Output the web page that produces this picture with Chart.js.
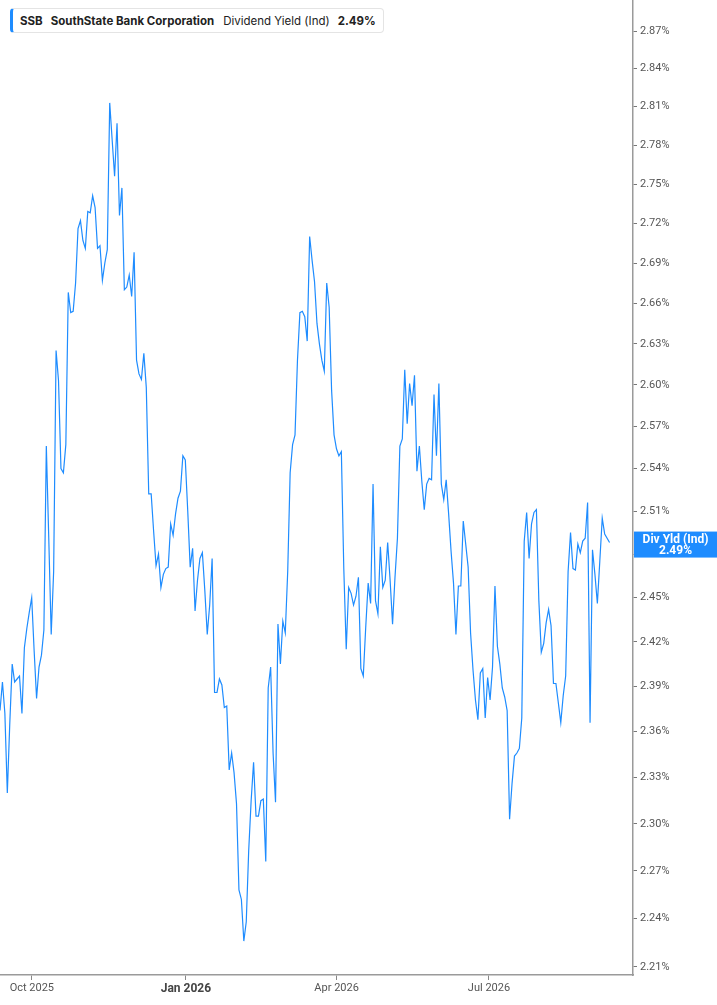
<!DOCTYPE html>
<html>
<head>
<meta charset="utf-8">
<script src="https://cdn.jsdelivr.net/npm/chart.js@4.4.1/dist/chart.umd.min.js"></script>
<style>
  body { margin: 0; background: #fff; }
  #wrap { position: relative; width: 717px; height: 1005px; }
  #legend {
    position: absolute; left: 10px; top: 8px; height: 25px; box-sizing: border-box;
    padding: 0 7px 0 7px; display: flex; align-items: center;
    border: 1px solid #e4e4e4; border-left: 3px solid #1e8cff; border-radius: 4px;
    background: #fff; font: 11.5px Inter, "Noto Sans", sans-serif; color: #222; white-space: nowrap;
  }
  #legend b { font-weight: 700; }
</style>
</head>
<body>
<div id="wrap">
  <canvas id="chart"></canvas>
  <div id="legend"></div>
</div>
<script>
// SSB dividend yield (indicated), one value per trading day
var ticker = 'SSB';
var company = 'SouthState Bank Corporation';
var metric = 'Dividend Yield (Ind)';
var shortMetric = 'Div Yld (Ind)';
var firstDate = '2025-09-12';
var lastDate = '2026-09-11';
var axisStart = '2025-09-12';
var axisEnd = '2026-09-25';
var monthTicks = ['2025-10-01', '2026-01-01', '2026-04-01', '2026-07-01'];
var monthLabels = ['Oct 2025', 'Jan 2026', 'Apr 2026', 'Jul 2026'];
var yTicks = [2.21, 2.24, 2.27, 2.30, 2.33, 2.36, 2.39, 2.42, 2.45, 2.48, 2.51, 2.54,
              2.57, 2.60, 2.63, 2.66, 2.69, 2.72, 2.75, 2.78, 2.81, 2.84, 2.87];

var yields = [
  2.374, 2.393, 2.372, 2.320, 2.365, 2.405, 2.393, 2.395, 2.397, 2.372,
  2.416, 2.429, 2.440, 2.450, 2.414, 2.382, 2.403, 2.411, 2.428, 2.556,
  2.491, 2.425, 2.468, 2.625, 2.603, 2.540, 2.537, 2.557, 2.668, 2.653,
  2.654, 2.675, 2.716, 2.722, 2.707, 2.701, 2.729, 2.728, 2.741, 2.732,
  2.701, 2.703, 2.677, 2.690, 2.700, 2.813, 2.784, 2.756, 2.797, 2.726,
  2.747, 2.670, 2.672, 2.681, 2.665, 2.698, 2.618, 2.608, 2.604, 2.623,
  2.598, 2.522, 2.522, 2.496, 2.472, 2.480, 2.457, 2.466, 2.470, 2.471,
  2.501, 2.493, 2.508, 2.519, 2.524, 2.549, 2.546, 2.510, 2.471, 2.484,
  2.441, 2.462, 2.477, 2.481, 2.455, 2.425, 2.445, 2.477, 2.386, 2.386,
  2.395, 2.391, 2.376, 2.377, 2.335, 2.346, 2.333, 2.313, 2.258, 2.252,
  2.226, 2.238, 2.283, 2.315, 2.340, 2.305, 2.305, 2.315, 2.316, 2.276,
  2.389, 2.403, 2.346, 2.314, 2.432, 2.405, 2.434, 2.426, 2.468, 2.537,
  2.557, 2.564, 2.618, 2.653, 2.654, 2.650, 2.632, 2.710, 2.692, 2.676,
  2.645, 2.630, 2.618, 2.610, 2.675, 2.657, 2.596, 2.564, 2.554, 2.549,
  2.552, 2.470, 2.415, 2.457, 2.453, 2.445, 2.451, 2.464, 2.402, 2.397,
  2.430, 2.460, 2.446, 2.529, 2.448, 2.439, 2.485, 2.457, 2.462, 2.488,
  2.462, 2.432, 2.464, 2.491, 2.556, 2.561, 2.611, 2.572, 2.601, 2.585,
  2.607, 2.538, 2.556, 2.531, 2.511, 2.529, 2.533, 2.532, 2.593, 2.549,
  2.601, 2.529, 2.518, 2.532, 2.508, 2.482, 2.460, 2.425, 2.458, 2.458,
  2.503, 2.487, 2.471, 2.426, 2.401, 2.381, 2.368, 2.399, 2.402, 2.369,
  2.396, 2.381, 2.403, 2.458, 2.417, 2.405, 2.389, 2.383, 2.374, 2.303,
  2.326, 2.344, 2.346, 2.349, 2.369, 2.489, 2.509, 2.477, 2.501, 2.509,
  2.511, 2.448, 2.413, 2.419, 2.433, 2.442, 2.431, 2.392, 2.392, 2.379,
  2.366, 2.384, 2.397, 2.468, 2.495, 2.470, 2.469, 2.487, 2.481, 2.489,
  2.491, 2.516, 2.366, 2.483, 2.466, 2.446, 2.475, 2.505, 2.494, 2.491,
  2.488
];

var lineColor = '#1e8cff';
var axisColor = '#9a9a9a';
var textColor = '#555';

// day numbers relative to 1 Oct 2025
function dayOf(s) {
  return (Date.parse(s + 'T00:00:00Z') - Date.parse('2025-10-01T00:00:00Z')) / 86400000;
}
var d0 = dayOf(firstDate), d1 = dayOf(lastDate);
var points = yields.map(function (v, i) {
  return { x: d0 + i * (d1 - d0) / (yields.length - 1), y: v };
});
var tickDays = monthTicks.map(dayOf);
var lastVal = yields[yields.length - 1];

document.getElementById('legend').innerHTML =
  '<b style="margin-right:8px">' + ticker + '</b>' +
  '<b>' + company + '</b>' +
  '<span style="margin-left:9px">' + metric + '</span>' +
  '<b style="margin-left:8px">' + lastVal.toFixed(2) + '%</b>';

// value tag at the right axis
var lastTag = {
  id: 'lastTag',
  afterDraw: function (chart) {
    var ctx = chart.ctx, y = chart.scales.y;
    var py = y.getPixelForValue(lastVal) + 2;
    var x0 = chart.chartArea.right + 1, w = chart.width - x0;
    ctx.save();
    ctx.fillStyle = lineColor;
    ctx.fillRect(x0, py - 13, w, 26);
    ctx.fillStyle = '#fff';
    ctx.font = 'bold 12px Roboto, sans-serif';
    ctx.textAlign = 'center';
    ctx.textBaseline = 'middle';
    ctx.fillText(shortMetric, x0 + w / 2, py - 5);
    ctx.fillText(lastVal.toFixed(2) + '%', x0 + w / 2, py + 6);
    ctx.restore();
  }
};

new Chart(document.getElementById('chart'), {
  type: 'line',
  data: {
    datasets: [{
      data: points,
      borderColor: lineColor,
      borderWidth: 1.2,
      pointRadius: 0,
      tension: 0,
      fill: false
    }]
  },
  options: {
    responsive: true,
    maintainAspectRatio: false,
    animation: false,
    layout: { padding: 0 },
    plugins: { legend: { display: false }, tooltip: { enabled: false } },
    scales: {
      x: {
        type: 'linear',
        min: dayOf(axisStart),
        max: dayOf(axisEnd),
        afterBuildTicks: function (s) { s.ticks = tickDays.map(function (d) { return { value: d }; }); },
        afterFit: function (s) { s.height = 30; s.paddingLeft = 0; s.paddingRight = 0; },
        border: { display: true, color: axisColor, width: 1.5 },
        grid: { display: true, drawOnChartArea: false, drawTicks: true, tickLength: 5, color: '#888' },
        ticks: {
          autoSkip: false,
          maxRotation: 0,
          padding: 2,
          color: function (c) { return c.tick && c.tick.value === tickDays[1] ? '#444' : textColor; },
          font: function (c) {
            return c.tick && c.tick.value === tickDays[1]
              ? { family: 'Roboto', size: 12, weight: 'bold' }
              : { family: 'Roboto', size: 11 };
          },
          callback: function (v) { var k = tickDays.indexOf(v); return k < 0 ? '' : monthLabels[k]; }
        }
      },
      y: {
        type: 'logarithmic',
        position: 'right',
        min: 2.205,
        max: 2.895,
        afterBuildTicks: function (s) { s.ticks = yTicks.map(function (v) { return { value: v }; }); },
        afterFit: function (s) { s.width = 84; s.paddingTop = 0; s.paddingBottom = 0; },
        border: { display: true, color: axisColor, width: 1.5 },
        grid: { display: true, drawOnChartArea: false, drawTicks: true, tickLength: 4, color: '#777' },
        ticks: {
          autoSkip: false,
          padding: 3,
          color: textColor,
          font: { family: 'Roboto', size: 11 },
          callback: function (v) { return Number(v).toFixed(2) + '%'; }
        }
      }
    }
  },
  plugins: [lastTag]
});
</script>
</body>
</html>
